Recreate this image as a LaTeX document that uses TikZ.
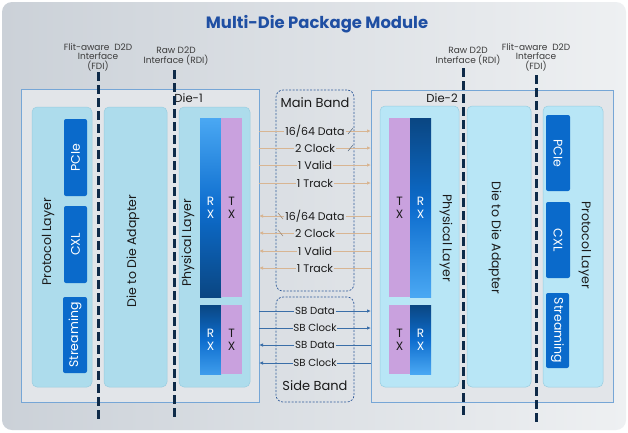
\documentclass[tikz,border=0pt]{standalone}
\usepackage{fontspec}
\setmainfont{Poppins}
\usetikzlibrary{arrows.meta,calc}
\definecolor{panelL}{HTML}{CBD1D8}
\definecolor{panelR}{HTML}{EEF0F2}
\definecolor{titleblue}{HTML}{1F4FA3}
\definecolor{diefill}{HTML}{E2E5E9}
\definecolor{dieedge}{HTML}{76A6D6}
\definecolor{layerA}{HTML}{ADDCEC}
\definecolor{layerB}{HTML}{B8E6F6}
\definecolor{layeredge}{HTML}{9ACDE0}
\definecolor{protoblue}{HTML}{0A6ACB}
\definecolor{txpurple}{HTML}{C9A1DE}
\definecolor{rxlight}{HTML}{4AA8F3}
\definecolor{rxmid}{HTML}{0D6DCE}
\definecolor{rxdark}{HTML}{0A4682}
\definecolor{navy}{HTML}{0E2A48}
\definecolor{bandedge}{HTML}{2F5A9A}
\definecolor{mbline}{HTML}{D8B592}
\definecolor{sbline}{HTML}{3A6EA8}
\definecolor{txt}{HTML}{1A1A1A}
\begin{document}
\begin{tikzpicture}[x=1pt,y=-1pt,
  diebox/.style={draw=dieedge,line width=0.9pt,fill=diefill,inner sep=0pt},
  layer/.style={draw=layeredge,line width=0.5pt,rounded corners=5pt,inner sep=0pt},
  proto/.style={fill=protoblue,rounded corners=2pt,inner sep=0pt,text=white,font=\fontsize{12.5}{14}\selectfont},
  bar/.style={inner sep=0pt,font=\fontsize{12}{13}\selectfont,align=center},
  txbar/.style={bar,fill=txpurple,text=txt},
  band/.style={draw=bandedge,dashed,dash pattern=on 2pt off 1.5pt,line width=0.7pt,rounded corners=7pt,inner sep=0pt},
  iface/.style={navy,line width=3pt,dash pattern=on 9pt off 4pt},
  lbl/.style={text=txt,font=\fontsize{11}{13}\selectfont,inner sep=1pt},
  sblbl/.style={text=txt,font=\fontsize{10.2}{12}\selectfont,inner sep=0.5pt},
  iflbl/.style={text=txt!85,font=\fontsize{9}{9.4}\selectfont,align=center,inner sep=0pt},
  mb/.style={mbline,line width=0.8pt},
  sb/.style={sbline,line width=0.8pt},
  tip/.style={-{Latex[length=4pt,width=3.5pt]}},
  rot/.style={text=txt,font=\fontsize{12.5}{14}\selectfont,inner sep=0pt}
]
\useasboundingbox (0,0) rectangle (628,432);
\fill[white] (0,0) rectangle (628,432);
\shade[left color=panelL,right color=panelR,rounded corners=10pt] (2,2) rectangle (626,430);

\node[text=titleblue,font=\fontsize{16.4}{19}\selectfont\bfseries] (title) at (317,24) {Multi-Die Package Module};

% dies
\node[diebox,minimum width=238pt,minimum height=313pt] (die1) at (140,245.5) {};
\node[diebox,minimum width=242pt,minimum height=312pt] (die2) at (492,246) {};
\node[text=txt,font=\fontsize{11.6}{13}\selectfont,inner sep=0pt,anchor=east] (d1l) at (203,98) {Die-1};
\node[text=txt,font=\fontsize{11.6}{13}\selectfont,inner sep=0pt,anchor=east] (d2l) at (458,98) {Die-2};

% Die-1 layers
\node[layer,fill=layerA,minimum width=60pt,minimum height=280pt] (pl1) at (62,247) {};
\node[layer,fill=layerA,minimum width=63pt,minimum height=280pt] (ad1) at (135.5,247) {};
\node[layer,fill=layerA,minimum width=71pt,minimum height=280pt] (ph1) at (214.5,247) {};
\node[rot,rotate=90] (pl1t) at (48,242) {Protocol Layer};
\node[rot,rotate=90] (ad1t) at (133,251) {Die to Die Adapter};
\node[rot,rotate=90] (ph1t) at (188,243) {Physical Layer};
\node[proto,minimum width=23pt,minimum height=77pt] (pcie1) at (75.5,157.5) {};
\node[proto,rotate=90] at (pcie1) {PCIe};
\node[proto,minimum width=23pt,minimum height=77pt] (cxl1) at (75.5,244.5) {};
\node[proto,rotate=90] at (cxl1) {CXL};
\node[proto,minimum width=24pt,minimum height=76pt] (st1) at (75,335) {};
\node[proto,rotate=90] at (st1) {Streaming};
\node[bar,minimum width=21pt,minimum height=179pt,top color=rxlight,bottom color=rxdark,middle color=rxmid,text=white] (rx1) at (210.5,207.5) {R\\X};
\node[txbar,minimum width=21pt,minimum height=179pt] (tx1) at (231.5,207.5) {T\\X};
\node[bar,minimum width=21pt,minimum height=69pt,top color=rxdark,bottom color=rxlight!80!rxmid,middle color=rxmid,text=white] (rx1b) at (210.5,339.5) {R\\X};
\node[txbar,minimum width=21pt,minimum height=69pt] (tx1b) at (231.5,339.5) {T\\X};

% Die-2 layers
\node[layer,fill=layerB,minimum width=79pt,minimum height=281pt] (ph2) at (419.5,246.5) {};
\node[layer,fill=layerB,minimum width=64pt,minimum height=281pt] (ad2) at (499,246.5) {};
\node[layer,fill=layerB,minimum width=60pt,minimum height=281pt] (pl2) at (573,246.5) {};
\node[rot,rotate=-90] (ph2t) at (446,238) {Physical Layer};
\node[rot,rotate=-90] (ad2t) at (495,238) {Die to Die Adapter};
\node[rot,rotate=-90] (pl2t) at (585,245) {Protocol Layer};
\node[proto,minimum width=24pt,minimum height=76pt] (pcie2) at (558,153) {};
\node[proto,rotate=-90] at (pcie2) {PCIe};
\node[proto,minimum width=24pt,minimum height=76pt] (cxl2) at (558,240) {};
\node[proto,rotate=-90] at (cxl2) {CXL};
\node[proto,minimum width=23pt,minimum height=75pt] (st2) at (557.5,330.5) {};
\node[proto,rotate=-90] at (st2) {Streaming};
\node[txbar,minimum width=21pt,minimum height=179pt] (tx2) at (399.5,207.5) {T\\X};
\node[bar,minimum width=21pt,minimum height=179pt,top color=rxdark,bottom color=rxlight,middle color=rxmid,text=white] (rx2) at (420.5,207.5) {R\\X};
\node[txbar,minimum width=21pt,minimum height=69pt] (tx2b) at (399.5,339.5) {T\\X};
\node[bar,minimum width=21pt,minimum height=69pt,top color=rxdark,bottom color=rxlight,middle color=rxmid,text=white] (rx2b) at (420.5,339.5) {R\\X};

% interface lines
\coordinate (f1t) at (98,72);  \coordinate (f1b) at (98,420);
\coordinate (r1t) at (174,70); \coordinate (r1b) at (174,418);
\coordinate (r2t) at (463,68); \coordinate (r2b) at (463,416);
\coordinate (f2t) at (536,75); \coordinate (f2b) at (536,423);
\draw[iface] (f1t) -- (f1b);
\draw[iface] (r1t) -- (r1b);
\draw[iface] (r2t) -- (r2b);
\draw[iface] (f2t) -- (f2b);
\node[iflbl,anchor=south] (f1l) at (98,71) {Flit-aware\ \ D2D\\Interface\\(FDI)};
\node[iflbl,anchor=south] (r1l) at (176,65) {Raw D2D\\Interface (RDI)};
\node[iflbl,anchor=south] (r2l) at (468,65) {Raw D2D\\Interface (RDI)};
\node[iflbl,anchor=south] (f2l) at (536,71) {Flit-aware\ \ D2D\\Interface\\(FDI)};

% bands
\node[band,minimum width=78pt,minimum height=201pt] (mband) at (315,190.5) {};
\node[band,minimum width=78pt,minimum height=105pt] (sband) at (315,349.5) {};
\node[text=txt,font=\fontsize{13}{15}\selectfont,inner sep=0pt] (mbt) at (315,103) {Main Band};
\node[text=txt,font=\fontsize{13}{15}\selectfont,inner sep=0pt] (sbt) at (315,386) {Side Band};

% main band signals
\foreach \i/\yy/\t in {1/131/16\slash 64 Data,2/148/2 Clock,3/165/1 Valid,4/183/1 Track}{
  \coordinate (ma\i) at (259,\yy);
  \coordinate (mb\i) at (371,\yy);
  \node[lbl] (mt\i) at (315,\yy) {\t};
  \draw[mb] (ma\i) -- (mt\i);
  \draw[mb,tip] (mt\i) -- (mb\i);
}
\foreach \i/\yy/\t in {5/216/16\slash 64 Data,6/233/2 Clock,7/251/1 Valid,8/268/1 Track}{
  \coordinate (ma\i) at (259,\yy);
  \coordinate (mb\i) at (371,\yy);
  \node[lbl] (mt\i) at (315,\yy) {\t};
  \draw[mb,tip] (mt\i) -- (ma\i);
  \draw[mb] (mb\i) -- (mt\i);
}
\foreach \i in {1,2}{ \draw[navy!70,line width=0.5pt] ($(mb\i)+(-23,3)$) -- ($(mb\i)+(-18,-3)$); }
\foreach \i in {5,6}{ \draw[mbline!70!black,line width=0.5pt] ($(ma\i)+(19,-3)$) -- ($(ma\i)+(24,3)$); }

% side band signals
\foreach \i/\yy/\t in {1/311/SB Data,2/328/SB Clock}{
  \coordinate (sa\i) at (259,\yy);
  \coordinate (sbb\i) at (371,\yy);
  \node[sblbl] (st\i) at (315,\yy) {\t};
  \draw[sb] (sa\i) -- (st\i);
  \draw[sb,tip] (st\i) -- (sbb\i);
}
\foreach \i/\yy/\t in {3/345/SB Data,4/363/SB Clock}{
  \coordinate (sa\i) at (259,\yy);
  \coordinate (sbb\i) at (371,\yy);
  \node[sblbl] (st\i) at (315,\yy) {\t};
  \draw[sb,tip] (st\i) -- (sa\i);
  \draw[sb] (sbb\i) -- (st\i);
}
\end{tikzpicture}
\end{document}
